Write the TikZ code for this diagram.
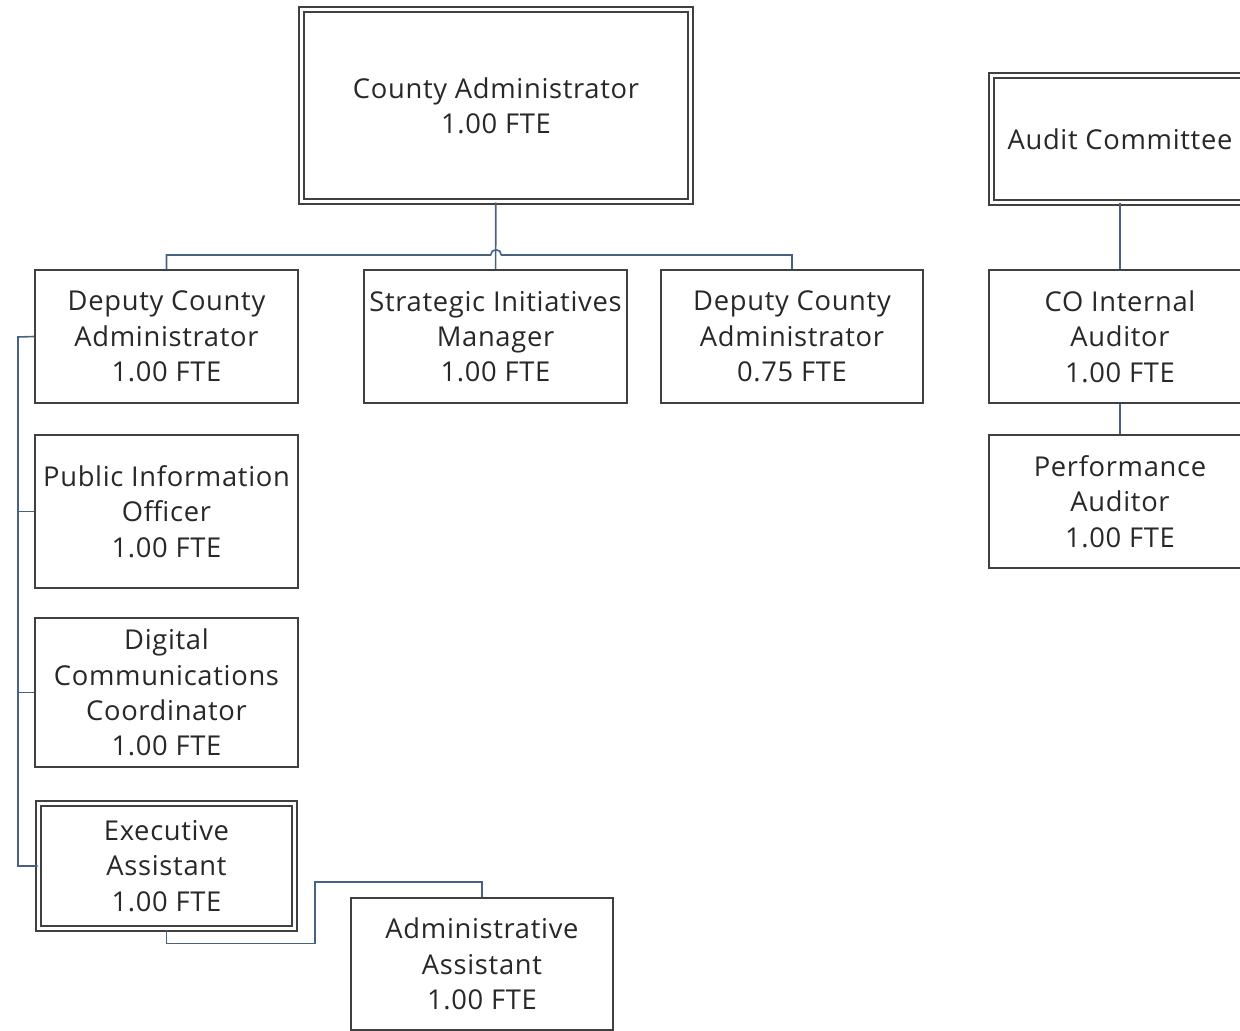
\documentclass[tikz,border=0pt]{standalone}
\usepackage{fontspec}
\setmainfont{Open Sans}[LetterSpace=2.5]
\definecolor{boxline}{RGB}{64,64,64}
\definecolor{wire}{RGB}{70,100,130}
\definecolor{ink}{RGB}{40,40,40}
\begin{document}
\begin{tikzpicture}[x=0.75pt,y=-0.75pt,
    post/.style={draw=boxline,line width=1.4pt,fill=white,text=ink,align=center,
      inner sep=0pt,minimum width=197pt,minimum height=99.5pt,
      font=\fontsize{20.5}{26.5}\selectfont},
    head/.style={post,line width=1.5pt,double=white,double distance=1.9pt},
    link/.style={draw=wire,line width=1.2pt}]
    \useasboundingbox (0,0) rectangle (1240,1031);
      \draw
        (496,105.5) node[head,minimum width=292pt,minimum height=144pt] (ca){County Administrator\\1.00 FTE}
        (1120,139) node[head,minimum width=193pt,minimum height=95pt] (ac){Audit Committee}
        (166.5,336.5) node[post] (dep1){Deputy County\\Administrator\\1.00 FTE}
        (495.5,336.5) node[post] (sim){Strategic Initiatives\\Manager\\1.00 FTE}
        (792,336.5) node[post] (dep2){Deputy County\\Administrator\\0.75 FTE}
        (1120,336.5) node[post] (coia){CO Internal\\Auditor\\1.00 FTE}
        (1120,501.5) node[post] (perf){Performance\\Auditor\\1.00 FTE}
        (166.5,511.5) node[post,minimum height=114.5pt] (pio){Public Information\\Officer\\1.00 FTE}
        (166.5,692.5) node[post,minimum height=111.5pt] (dcc){Digital\\Communications\\Coordinator\\1.00 FTE}
        (166.5,866) node[head,minimum width=192pt,minimum height=94pt] (ea){Executive\\Assistant\\1.00 FTE}
        (482,964) node[post] (aa){Administrative\\Assistant\\1.00 FTE};
      \coordinate (hop) at (496,255);
      \coordinate (lbus) at (18,337);
      \coordinate (jog) at (315,882);
      \begin{scope}[link]
        \draw (ca) to (sim);
        \draw (dep1.north) |- ([xshift=-4pt]hop) arc (180:0:4pt) -| (dep2.north);
        \draw (ac) to (coia);
        \draw (coia) to (perf);
        \draw (dep1.west) -- (lbus) |- (ea.west);
        \draw (lbus) |- (pio.west);
        \draw (lbus) |- (dcc.west);
        \draw (ea.south) -- ++(0,14) -| (jog) -| (aa.north);
      \end{scope}
    \end{tikzpicture}
\end{document}
